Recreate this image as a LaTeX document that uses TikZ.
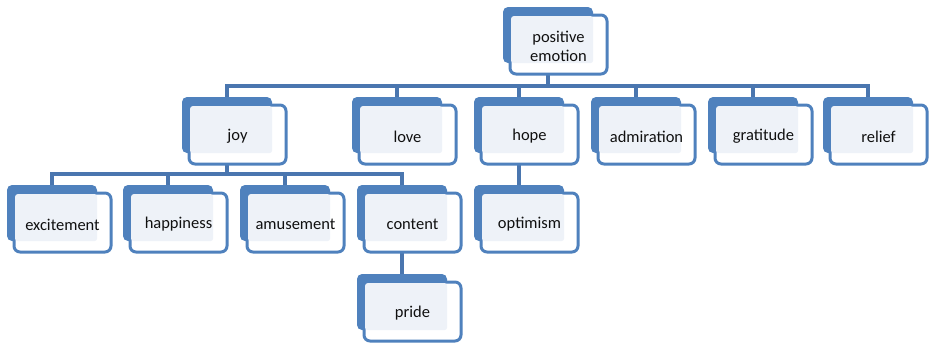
\documentclass[tikz,border=0pt]{standalone}
\usepackage{fontspec}
\setmainfont{Carlito}
\usetikzlibrary{calc,backgrounds}

\definecolor{boxblue}{HTML}{4F81BD}
\definecolor{linkblue}{HTML}{4A76AF}
\definecolor{panel}{HTML}{EEF2F8}
\definecolor{ink}{HTML}{101010}

\tikzset{
  backbox/.style={fill=boxblue, rounded corners=5pt, inner sep=0pt,
    minimum width=90pt, minimum height=56pt},
  frontbox/.style={draw=boxblue, fill=white, line width=3pt, rounded corners=6pt,
    inner sep=0pt, minimum width=97pt, minimum height=59pt},
  panelfill/.style={fill=panel, rounded corners=3pt},
  emotext/.style={text=ink, font=\fontsize{16.5}{19}\selectfont, align=center, inner sep=0pt},
  link/.style={draw=linkblue, line width=4pt, line join=miter},
}

% \emo{name}{left}{top}{label}: stacked card whose back plate has its
% top-left corner at (left, top)
\newcommand\emo[4]{%
  \node[backbox] (#1b) at (#2+45, #3+28) {};
  \node[frontbox] (#1) at (#2+5.5+50, #3+6.5+31) {};
  \fill[panelfill] ($(#1.north west)+(2.5pt,-2.5pt)$) rectangle (#1b.south east);
  \node[emotext] (#1t) at ($(#1.center)+(0pt,-2pt)$) {#4};
}

\begin{document}
\begin{tikzpicture}[x=1pt, y=-1pt]
  \useasboundingbox (0,0) rectangle (929,346);

  % cards
  \emo{pe}{503}{7}{positive\\emotion}

  \emo{joy}{182}{97}{joy}
  \emo{love}{352}{97}{love}
  \emo{hope}{474}{97}{hope}
  \emo{admiration}{591}{97}{admiration}
  \emo{gratitude}{708}{97}{gratitude}
  \emo{relief}{823}{97}{relief}

  \emo{excitement}{7}{185}{excitement}
  \emo{happiness}{123}{185}{happiness}
  \emo{amusement}{240}{185}{amusement}
  \emo{content}{357}{185}{content}
  \emo{optimism}{474}{185}{optimism}

  \emo{pride}{357}{274}{pride}

  % connectors, kept behind the cards
  \coordinate (bus1) at (0,86);
  \coordinate (bus2) at (0,174);
  \begin{scope}[on background layer]
    \foreach \c in {joy,love,hope,admiration,gratitude,relief}
      \draw[link] (peb) -- (peb |- bus1) -| (\c b.north);
    \foreach \c in {excitement,happiness,amusement,content}
      \draw[link] (joyb) -- (joyb |- bus2) -| (\c b.north);
    \draw[link] (hopeb) -- (optimismb.north);
    \draw[link] (contentb) -- (prideb.north);
  \end{scope}
\end{tikzpicture}
\end{document}
